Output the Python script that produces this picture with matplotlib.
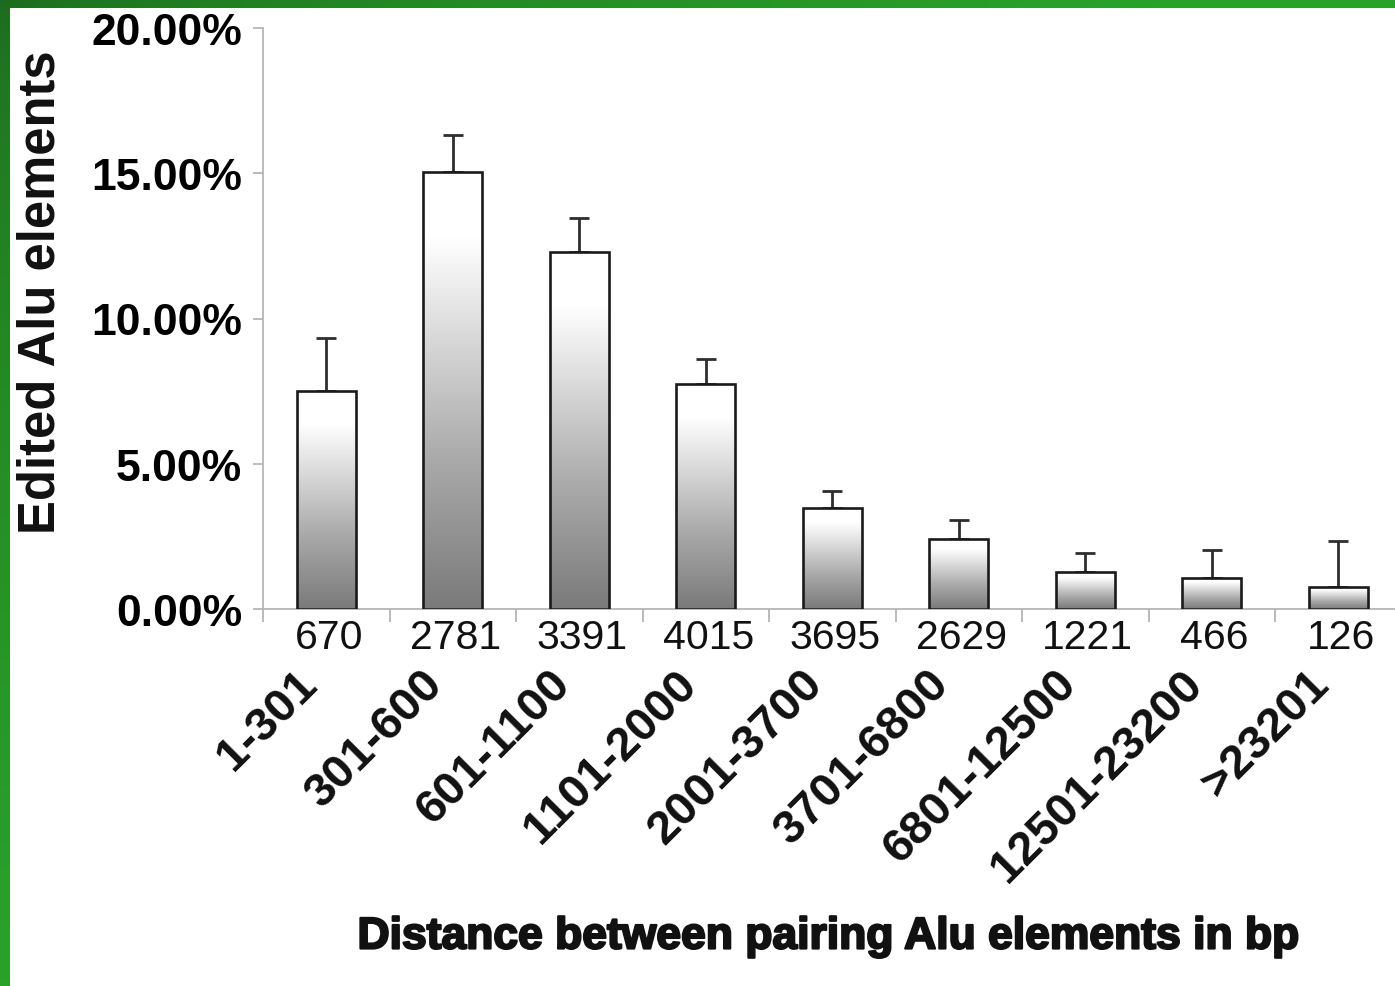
import numpy as np
import matplotlib
matplotlib.use("Agg")
import matplotlib.pyplot as plt
import matplotlib.patheffects as pe
from matplotlib.colors import LinearSegmentedColormap, to_rgb
from matplotlib.patches import Rectangle
from matplotlib.ticker import FixedLocator, FuncFormatter

# Data
ranges = ["1-301", "301-600", "601-1100", "1101-2000", "2001-3700",
          "3701-6800", "6801-12500", "12501-23200", ">23201"]
counts = [670, 2781, 3391, 4015, 3695, 2629, 1221, 466, 126]
edited_pct = [7.50, 15.04, 12.29, 7.75, 3.48, 2.41, 1.27, 1.07, 0.76]
upper_err = [1.83, 1.28, 1.17, 0.86, 0.58, 0.65, 0.66, 0.96, 1.58]
yticks = [0, 5, 10, 15, 20]

W, H = 1395, 987
fig = plt.figure(figsize=(W / 100, H / 100), dpi=100)

# Green frame behind a white page
bg = fig.add_axes([0, 0, 1, 1], zorder=-10)
bg.set_axis_off()
xf = np.linspace(0, 1, 200)[None, :]
yf = np.linspace(0, 1, 200)[:, None]
t = np.clip(xf * 1.2 + yf * 1.0, 0, 1) ** 0.6
dark = np.array(to_rgb("#1c6a1e"))
bright = np.array(to_rgb("#2aa22a"))
img = dark[None, None, :] * (1 - t[..., None]) + bright[None, None, :] * t[..., None]
bg.imshow(img, extent=[0, 1, 0, 1], origin="upper", aspect="auto")
bg.add_patch(Rectangle((10 / W, 0), 1, 1 - 8.5 / H, facecolor="white", edgecolor="none"))
bg.set_xlim(0, 1)
bg.set_ylim(0, 1)

ax = fig.add_axes([263 / W, 1 - 610 / H, 9 * 126.5 / W, 581 / H])
ax.set_facecolor("none")

x = np.arange(len(ranges))
bar_w = 0.47
cmap = LinearSegmentedColormap.from_list(
    "barfade", [(0.0, "#7a7a7a"), (0.35, "#ababab"), (0.7, "#e6e6e6"), (0.85, "#ffffff"), (1.0, "#ffffff")])
grad = np.linspace(0, 1, 256).reshape(-1, 1)

bars = ax.bar(x, edited_pct, width=bar_w, facecolor="none",
              edgecolor="#1a1a1a", linewidth=1.9, zorder=3)
for rect in bars:
    x0, h = rect.get_x(), rect.get_height()
    im = ax.imshow(grad, cmap=cmap, origin="lower", aspect="auto",
                   extent=[x0, x0 + rect.get_width(), 0, h], zorder=2)
    im.set_clip_path(rect)

ax.errorbar(x, edited_pct, yerr=[np.zeros(len(x)), upper_err], fmt="none",
            ecolor="#2e2e2e", elinewidth=2.0, capsize=7.5, capthick=2.0, zorder=1)

ax.set_xlim(-0.5, len(ranges) - 0.5)
ax.set_ylim(0, 20)

for s in ("top", "right"):
    ax.spines[s].set_visible(False)
for s in ("left", "bottom"):
    ax.spines[s].set_color("#b5b5b5")
    ax.spines[s].set_linewidth(1.3)

ax.yaxis.set_major_locator(FixedLocator(yticks))
ax.yaxis.set_major_formatter(FuncFormatter(lambda v, p: f"{v:.2f}%"))
ax.tick_params(axis="y", length=7, width=1.3, color="#b5b5b5", pad=8,
               labelsize=32)
for lab in ax.get_yticklabels():
    lab.set_fontfamily("Liberation Sans")
    lab.set_fontweight("bold")

ax.xaxis.set_major_locator(FixedLocator(np.arange(-0.5, len(ranges), 1.0)))
ax.tick_params(axis="x", length=9, width=1.3, color="#b5b5b5", labelbottom=False)

xt = ax.get_xaxis_transform()
for i, (r, c) in enumerate(zip(ranges, counts)):
    ax.text(i + 0.02, -0.048, str(c), transform=xt, ha="center", va="center",
            fontsize=29.5, family="Liberation Sans", color="#111111")
    ax.text(i - 0.25, -0.09, r, transform=xt, ha="right", va="top",
            rotation=45, rotation_mode="anchor", fontsize=34,
            family="Liberation Sans", fontweight="bold", color="#111111")

fig.text(829 / W, 1 - 938 / H, "Distance between pairing Alu elements in bp",
         ha="center", va="center", fontsize=32, family="Liberation Sans",
         fontweight="bold", color="#111111",
         path_effects=[pe.withStroke(linewidth=1.6, foreground="#111111")])
fig.text(41 / W, 1 - 292 / H, "Edited Alu elements", rotation=90,
         ha="center", va="center", fontsize=36.5, family="Liberation Sans",
         fontweight="bold", color="#111111")

fig.savefig("out.png", dpi=100)
